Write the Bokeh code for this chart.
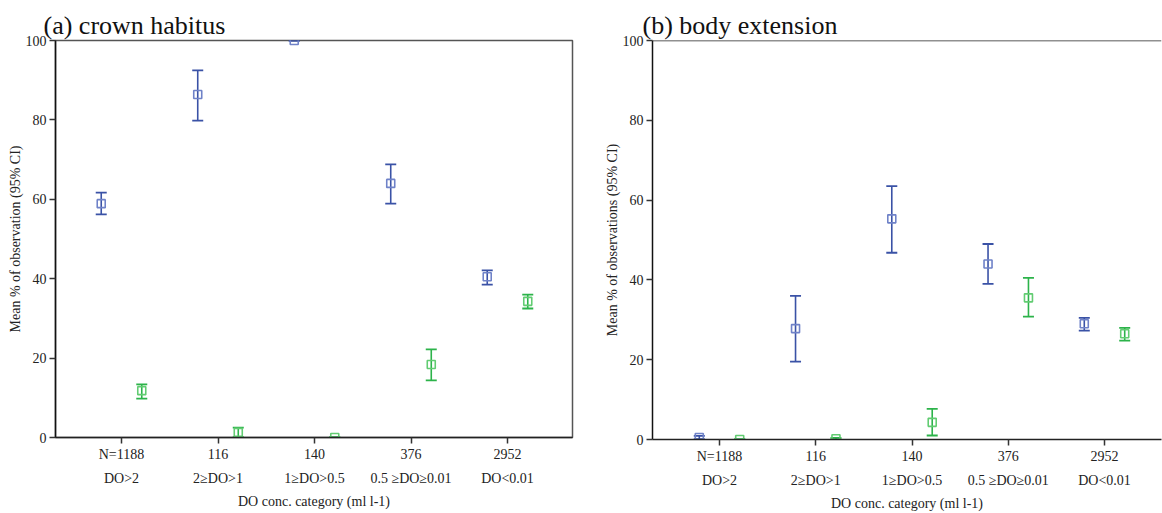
from bokeh.plotting import figure
from bokeh.models import Range1d, FixedTicker, Title, Span
from bokeh.layouts import row
from bokeh.embed import file_html
from bokeh.resources import INLINE

# ---- data ----
categories = [1, 2, 3, 4, 5]
n_labels = ["N=1188", "116", "140", "376", "2952"]
do_labels = ["DO>2", "2≥DO>1", "1≥DO>0.5", "0.5 ≥DO≥0.01", "DO<0.01"]
y_ticks = [0, 20, 40, 60, 80, 100]

a_blue_mean = [58.9, 86.4, 100.0, 64.0, 40.5]
a_blue_lo = [56.2, 79.8, 100.0, 58.9, 38.5]
a_blue_hi = [61.7, 92.5, 100.0, 68.8, 42.1]
a_green_mean = [11.8, 1.3, 0.0, 18.4, 34.3]
a_green_lo = [9.8, 0.1, 0.0, 14.4, 32.5]
a_green_hi = [13.4, 2.5, 0.0, 22.2, 36.0]

b_blue_mean = [0.5, 27.8, 55.3, 44.0, 29.0]
b_blue_lo = [0.1, 19.5, 46.8, 39.0, 27.3]
b_blue_hi = [0.9, 36.0, 63.5, 49.0, 30.5]
b_green_mean = [0.0, 0.2, 4.3, 35.5, 26.5]
b_green_lo = [0.0, 0.0, 1.0, 30.8, 24.8]
b_green_hi = [0.0, 0.4, 7.7, 40.5, 28.0]

# ---- style ----
FONT = "Liberation Serif"
BLUE = "#3a52a6"
BLUE_M = "#6f82c8"
GREEN = "#2cb34a"
GREEN_M = "#62cc72"
OFFSET = 0.21


def style_axes(p, ylabel):
    p.xgrid.visible = False
    p.ygrid.visible = False
    xa = p.xaxis[0]
    xa.ticker = FixedTicker(ticks=categories)
    xa.major_label_overrides = {c: n + "\n" + d for c, n, d in zip(categories, n_labels, do_labels)}
    xa.major_tick_out = 6
    xa.major_tick_in = 0
    xa.minor_tick_line_color = None
    xa.axis_line_color = "#222222"
    xa.axis_line_width = 1.5
    xa.major_tick_line_color = "#333333"
    xa.major_tick_line_width = 1.5
    xa.major_label_standoff = 3
    xa.major_label_text_font = FONT
    xa.major_label_text_font_size = "14px"
    xa.major_label_text_line_height = 1.6
    xa.major_label_text_color = "#222222"
    xa.axis_label = "DO conc. category (ml l-1)"
    xa.axis_label_text_font = FONT
    xa.axis_label_text_font_size = "14px"
    xa.axis_label_text_font_style = "normal"
    xa.axis_label_text_color = "#222222"
    xa.axis_label_standoff = 5

    ya = p.yaxis[0]
    ya.ticker = FixedTicker(ticks=y_ticks)
    ya.major_tick_out = 6
    ya.major_tick_in = 0
    ya.minor_tick_line_color = None
    ya.axis_line_color = "#111111"
    ya.axis_line_width = 1.5
    ya.major_tick_line_color = "#333333"
    ya.major_tick_line_width = 1.5
    ya.major_label_standoff = 3
    ya.major_label_text_font = FONT
    ya.major_label_text_font_size = "14px"
    ya.major_label_text_color = "#222222"
    ya.axis_label = ylabel
    ya.axis_label_text_font = FONT
    ya.axis_label_text_font_size = "14px"
    ya.axis_label_text_font_style = "normal"
    ya.axis_label_text_color = "#222222"
    ya.axis_label_standoff = 0


def draw_series(p, mean, lo, hi, sign, line_col, mark_col):
    xs = [c + sign * OFFSET for c in categories]
    p.segment(x0=xs, y0=lo, x1=xs, y1=hi, line_color=line_col, line_width=1.6)
    p.scatter(x=xs, y=hi, marker="dash", size=11, line_color=line_col, line_width=1.8)
    p.scatter(x=xs, y=lo, marker="dash", size=11, line_color=line_col, line_width=1.8)
    p.scatter(x=xs, y=mean, marker="square", size=8, fill_color="white", fill_alpha=0.0,
              line_color=mark_col, line_width=1.6)


def make_panel(title, ylabel, data, x_start, x_end, frame_w, frame_h,
               b_left, b_right, b_top, b_bottom, t_offset, full_box):
    p = figure(frame_width=frame_w, frame_height=frame_h,
               x_range=Range1d(x_start, x_end), y_range=Range1d(0, 100),
               min_border_left=b_left, min_border_right=b_right,
               min_border_top=b_top, min_border_bottom=b_bottom,
               output_backend="svg", toolbar_location=None)
    p.title = Title(text=title, text_font=FONT, text_font_size="26px",
                    text_font_style="normal", text_color="#111111",
                    align="left", offset=t_offset, standoff=1)
    style_axes(p, ylabel)
    if full_box:
        p.outline_line_color = "#555555"
        p.outline_line_width = 1.5
    else:
        p.outline_line_color = None
        p.add_layout(Span(location=100, dimension="width", line_color="#222222",
                          line_width=1.5))
    bm, bl, bh, gm, gl, gh = data
    draw_series(p, bm, bl, bh, -1, BLUE, BLUE_M)
    draw_series(p, gm, gl, gh, +1, GREEN, GREEN_M)
    return p


p1 = make_panel("(a) crown habitus", "Mean % of observation (95% CI)",
                (a_blue_mean, a_blue_lo, a_blue_hi, a_green_mean, a_green_lo, a_green_hi),
                1 - 66 / 96.5, 5 + 65 / 96.5, 517, 397, 55, 8, 38, 76, -12, True)
p2 = make_panel("(b) body extension", "Mean % of observations (95% CI)",
                (b_blue_mean, b_blue_lo, b_blue_hi, b_green_mean, b_green_lo, b_green_hi),
                1 - 67 / 96.25, 5 + 57 / 96.25, 509, 399, 72, 1, 40, 72, -10, False)

layout = row(p1, p2)
open("out.html", "w").write(file_html(layout, INLINE))
